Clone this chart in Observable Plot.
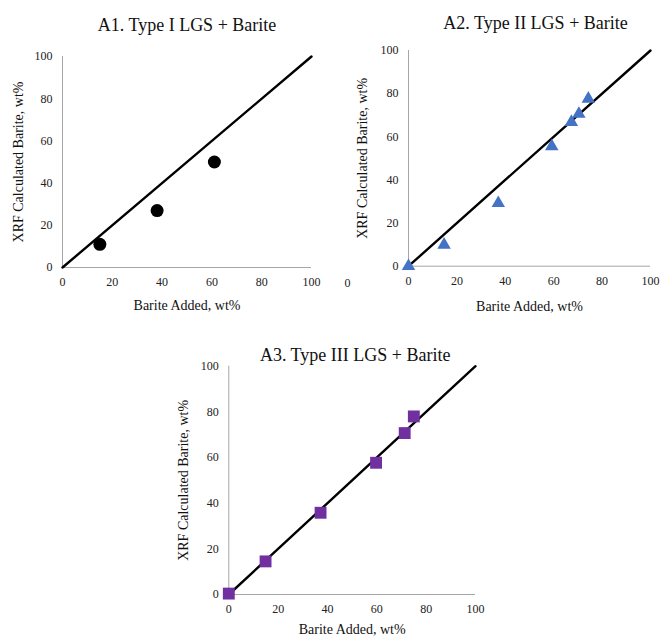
<!DOCTYPE html>
<html><head><meta charset="utf-8">
<script src="https://cdn.jsdelivr.net/npm/d3@7"></script>
<script src="https://cdn.jsdelivr.net/npm/@observablehq/plot@0.6"></script>
<style>
body{margin:0;background:#fff}
#wrap{position:relative;width:663px;height:639px;overflow:hidden;background:#fff}
.panel{position:absolute}
#wrap svg, #wrap svg text{font-family:"Liberation Serif","Times New Roman",serif !important;font-variant:normal !important}
</style></head><body><div id="wrap"></div>
<script>
const tickValues = [0, 20, 40, 60, 80, 100];
const identityLine = [[0, 0], [100, 100]];
const xLabel = "Barite Added, wt%";
const yLabel = "XRF Calculated Barite, wt%";
const titles = ["A1. Type I LGS + Barite", "A2. Type II LGS + Barite", "A3. Type III LGS + Barite"];
const a1Added = [15, 38, 61];
const a1XRF = [11, 27, 50];
const a2Added = [0, 14.7, 37.1, 59.2, 67.3, 70.4, 74.3];
const a2XRF = [0, 9.9, 29.2, 55.6, 66.8, 70.6, 77.6];
const a3Added = [0, 14.9, 37.2, 59.7, 71.3, 75.0];
const a3XRF = [0.4, 14.5, 35.8, 57.7, 70.7, 78.0];
const strayLabels = ["0"];

const FONT = '"Liberation Serif","Times New Roman",serif';

function panel(cfg) {
  const data = cfg.xs.map((x, i) => ({x, y: cfg.ys[i]}));
  const marks = [
    Plot.ruleX([0], {stroke: "#a6a6a6", strokeWidth: 1}),
    Plot.ruleY([0], {stroke: "#a6a6a6", strokeWidth: 1}),
    Plot.axisX({ticks: tickValues, tickSize: 0, tickPadding: 10, label: null, fontSize: 12, fill: "#222"}),
    Plot.axisY({ticks: tickValues, tickSize: 0, tickPadding: 10, label: null, fontSize: 12, fill: "#222"}),
    Plot.line(identityLine, {x: d => d[0], y: d => d[1], stroke: "black", strokeWidth: 2.4}),
    Plot.dot(data, {x: "x", y: "y", symbol: cfg.symbol, r: cfg.r, fill: cfg.fill, stroke: "none"}),
    Plot.text([cfg.title], {text: d => d, frameAnchor: "top", dx: cfg.titleDx, dy: cfg.titleDy, fontSize: 18, fill: "#111", lineAnchor: "middle"}),
    Plot.text([yLabel], {text: d => d, frameAnchor: "left", rotate: -90, dx: cfg.yLabelDx, textAnchor: "middle", lineAnchor: "middle", fontSize: 14, fill: "#111"}),
    Plot.text([xLabel], {text: d => d, frameAnchor: "bottom", dy: cfg.xLabelDy, lineAnchor: "middle", fontSize: 14, fill: "#111"})
  ];
  if (cfg.stray) {
    marks.push(Plot.text(strayLabels, {text: d => d, frameAnchor: "bottom-left", dx: -61, dy: 17, lineAnchor: "middle", textAnchor: "middle", fontSize: 12, fill: "#222"}));
  }
  const svg = Plot.plot({
    width: cfg.width, height: cfg.height,
    marginLeft: cfg.ml, marginRight: cfg.mr, marginTop: cfg.mt, marginBottom: cfg.mb,
    x: {domain: [0, 100]},
    y: {domain: [0, 100]},
    style: {fontFamily: FONT, fontSize: "12px", background: "transparent", overflow: "visible"},
    marks
  });
  svg.classList.add("panel");
  svg.style.left = cfg.left + "px";
  svg.style.top = cfg.top + "px";
  document.getElementById("wrap").appendChild(svg);
}

panel({title: titles[0], xs: a1Added, ys: a1XRF, symbol: "circle", r: 6.5, fill: "black",
  left: 0, top: 0, width: 330, height: 320, ml: 62, mr: 19, mt: 56, mb: 53,
  titleDx: 0, titleDy: -31, yLabelDx: -44, xLabelDy: 38});
panel({title: titles[1], xs: a2Added, ys: a2XRF, symbol: "triangle", r: 5, fill: "#4472C4",
  left: 330, top: 0, width: 333, height: 320, ml: 78, mr: 13, mt: 50, mb: 54.3,
  titleDx: 6, titleDy: -27, yLabelDx: -46, xLabelDy: 40, stray: true});
panel({title: titles[2], xs: a3Added, ys: a3XRF, symbol: "square", r: 6.7, fill: "#7030A0",
  left: 150, top: 320, width: 340, height: 319, ml: 78.3, mr: 15, mt: 45.7, mb: 45,
  titleDx: 3, titleDy: -11, yLabelDx: -45, xLabelDy: 35});
</script></body></html>
